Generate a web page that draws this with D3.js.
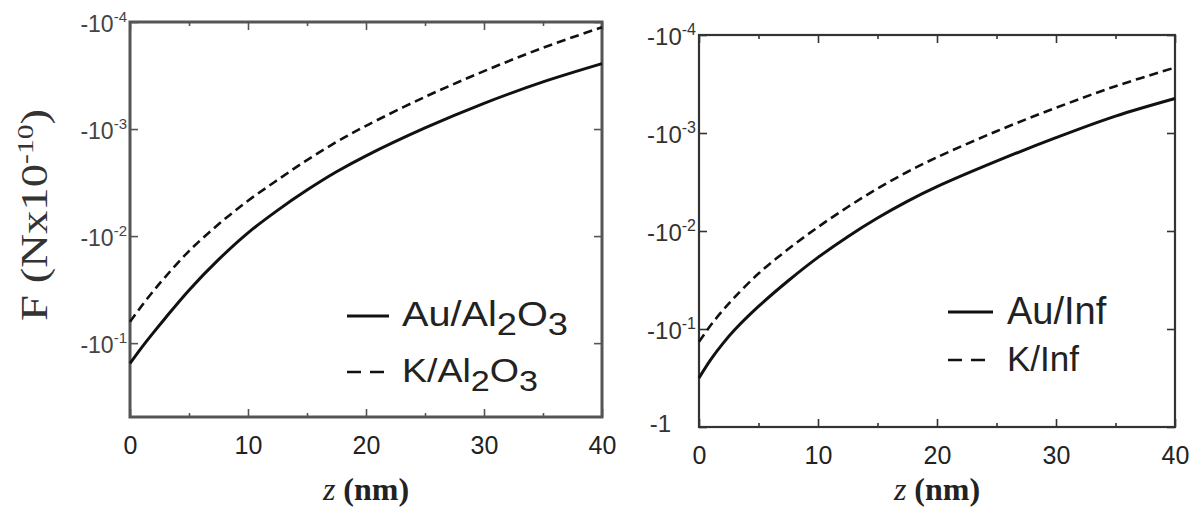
<!DOCTYPE html>
<html><head><meta charset="utf-8">
<script src="https://cdnjs.cloudflare.com/ajax/libs/d3/7.8.5/d3.min.js"></script>
<style>
html,body{margin:0;padding:0;background:#fff;}
svg{display:block;}
</style></head>
<body>
<svg id="chart" width="1200" height="510"></svg>
<script>
// ---- data ----
const zValues = [0, 1, 2, 3, 5, 7.5, 10, 12.5, 15, 17.5, 20, 25, 30, 35, 40];
const auAl2O3 = [-0.1549, -0.1096, -0.0794, -0.0582, -0.0320, -0.0166, -0.00933, -0.00575, -0.00372, -0.00251, -0.00178, -0.000977, -0.000575, -0.000363, -0.000245];
const kAl2O3  = [-0.0631, -0.0447, -0.0324, -0.0240, -0.0138, -0.00776, -0.00468, -0.00299, -0.00195, -0.00132, -0.000933, -0.000501, -0.000288, -0.000174, -0.000112];
const auInf   = [-0.316, -0.204, -0.141, -0.102, -0.0589, -0.0322, -0.0186, -0.01142, -0.00737, -0.00498, -0.00353, -0.00194, -0.001116, -0.000672, -0.000444];
const kInf    = [-0.135, -0.0912, -0.0646, -0.0473, -0.0272, -0.0153, -0.00912, -0.00569, -0.00369, -0.00250, -0.00177, -0.000960, -0.000553, -0.000333, -0.000215];
const xTicks = [0, 10, 20, 30, 40];
const xMinorTicks = [5, 15, 25, 35];
const yTicksLeft = [-1e-4, -1e-3, -1e-2, -1e-1];
const yTicksRight = [-1e-4, -1e-3, -1e-2, -1e-1, -1];
const yTickExp = {"-0.0001": "-4", "-0.001": "-3", "-0.01": "-2", "-0.1": "-1"};
const legendLeft = ["Au/Al2O3", "K/Al2O3"];
const legendRight = ["Au/Inf", "K/Inf"];

const svg = d3.select("#chart");

const panels = [
  {x0: 130, x1: 602, y0: 22, y1: 417, yMin: -0.49, ticks: yTicksLeft, frameW: 3, frameC: "#555",
   series: [auAl2O3, kAl2O3], names: legendLeft, lblSize: 23, supSize: 15, lblFill: "#444",
   leg: {lx0: 347, lx1: 389, y: [316, 372], tx: 402, base: [326, 382], size: [35, 33], len: [166, 136]}},
  {x0: 699, x1: 1175, y0: 35, y1: 427, yMin: -1, ticks: yTicksRight, frameW: 2.2, frameC: "#333",
   series: [auInf, kInf], names: legendRight, lblSize: 24, supSize: 16, lblFill: "#333",
   leg: {lx0: 948, lx1: 993, y: [312, 360], tx: 1007, base: [324, 371], size: [38, 35], len: [null, null]}}
];

panels.forEach(p => {
  const x = d3.scaleLinear().domain([0, 40]).range([p.x0, p.x1]);
  const y = d3.scaleLog().domain([p.yMin, -1e-4]).range([p.y1, p.y0]);
  const g = svg.append("g");

  const tickStyle = sel => { sel.select(".domain").remove(); sel.selectAll("line").attr("stroke", p.frameC).attr("stroke-width", 1.6); };
  g.append("g").attr("transform", `translate(0,${p.y1})`)
    .call(d3.axisBottom(x).tickValues(xTicks).tickSize(-8).tickPadding(19).tickFormat(d3.format("d")))
    .call(tickStyle)
    .call(s => s.selectAll("text").attr("font-family", "Liberation Sans, Arial, sans-serif").attr("font-size", 25).attr("fill", "#222"));
  g.append("g").attr("transform", `translate(0,${p.y1})`)
    .call(d3.axisBottom(x).tickValues(xMinorTicks).tickSize(-4).tickFormat(""))
    .call(tickStyle);
  g.append("g").attr("transform", `translate(0,${p.y0})`)
    .call(d3.axisTop(x).tickValues(xTicks).tickSize(-8).tickFormat(""))
    .call(tickStyle);
  g.append("g").attr("transform", `translate(0,${p.y0})`)
    .call(d3.axisTop(x).tickValues(xMinorTicks).tickSize(-4).tickFormat(""))
    .call(tickStyle);
  const yl = g.append("g").attr("transform", `translate(${p.x0},0)`)
    .call(d3.axisLeft(y).tickValues(p.ticks).tickSize(-8).tickPadding(6).tickFormat(() => ""))
    .call(tickStyle);
  g.append("g").attr("transform", `translate(${p.x1},0)`)
    .call(d3.axisRight(y).tickValues(p.ticks).tickSize(-8).tickFormat(""))
    .call(tickStyle);

  yl.selectAll(".tick text").each(function(d) {
    const t = d3.select(this)
      .attr("font-family", "Liberation Sans, Arial, sans-serif")
      .attr("font-size", p.lblSize).attr("fill", p.lblFill)
      .attr("text-anchor", "end").attr("x", -3).attr("dy", "0.4em");
    const exp = yTickExp[String(d)];
    if (exp) {
      t.append("tspan").text("-10");
      t.append("tspan").attr("font-size", p.supSize).attr("dy", -10).text(exp);
    } else {
      t.attr("x", -28).attr("dy", "0.2em").append("tspan").text(String(d));
    }
  });

  g.append("rect").attr("x", p.x0).attr("y", p.y0)
    .attr("width", p.x1 - p.x0).attr("height", p.y1 - p.y0)
    .attr("fill", "none").attr("stroke", p.frameC).attr("stroke-width", p.frameW);

  const line = d3.line().x(d => x(d[0])).y(d => y(d[1])).curve(d3.curveCatmullRom.alpha(0.5));
  p.series.forEach((s, i) => {
    g.append("path").datum(zValues.map((z, k) => [z, s[k]]))
      .attr("d", line).attr("fill", "none").attr("stroke", "#111")
      .attr("stroke-width", i === 0 ? 3 : 2.6)
      .attr("stroke-dasharray", i === 0 ? null : "9,5");
  });

  p.names.forEach((name, i) => {
    g.append("line").attr("x1", p.leg.lx0).attr("x2", i === 0 ? p.leg.lx1 : p.leg.lx1 - 4)
      .attr("y1", p.leg.y[i]).attr("y2", p.leg.y[i])
      .attr("stroke", "#111").attr("stroke-width", i === 0 ? 3 : 2.6)
      .attr("stroke-dasharray", i === 0 ? null : "14,9");
    const t = g.append("text").attr("x", p.leg.tx).attr("y", p.leg.base[i])
      .attr("font-family", "Liberation Sans, Arial, sans-serif")
      .attr("font-size", p.leg.size[i]).attr("fill", "#222");
    if (p.leg.len[i]) t.attr("textLength", p.leg.len[i]).attr("lengthAdjust", "spacingAndGlyphs");
    const m = name.match(/^(.*Al)2O3$/);
    if (m) {
      const sub = Math.round(p.leg.size[i] * 0.9);
      t.append("tspan").text(m[1]);
      t.append("tspan").attr("font-size", sub).attr("dy", 9).text("2");
      t.append("tspan").attr("dy", -9).text("O");
      t.append("tspan").attr("font-size", sub).attr("dy", 9).text("3");
    } else {
      t.text(name);
    }
  });

  const xt = g.append("text").attr("x", (p.x0 + p.x1) / 2).attr("y", 500)
    .attr("text-anchor", "middle").attr("font-family", "Liberation Serif, Times New Roman, serif")
    .attr("font-size", 32).attr("fill", "#222");
  xt.append("tspan").attr("font-style", "italic").text("z");
  xt.append("tspan").attr("font-weight", "bold").text(" (nm)");
});

const yt = svg.append("text").attr("transform", "translate(47,215) rotate(-90)")
  .attr("text-anchor", "middle").attr("font-family", "Liberation Serif, Times New Roman, serif")
  .attr("font-size", 38).attr("fill", "#333")
  .attr("textLength", 212).attr("lengthAdjust", "spacingAndGlyphs");
yt.append("tspan").text("F (Nx10");
yt.append("tspan").attr("font-size", 24).attr("dy", -14).text("-10");
yt.append("tspan").attr("dy", 14).text(")");
</script>
</body></html>
